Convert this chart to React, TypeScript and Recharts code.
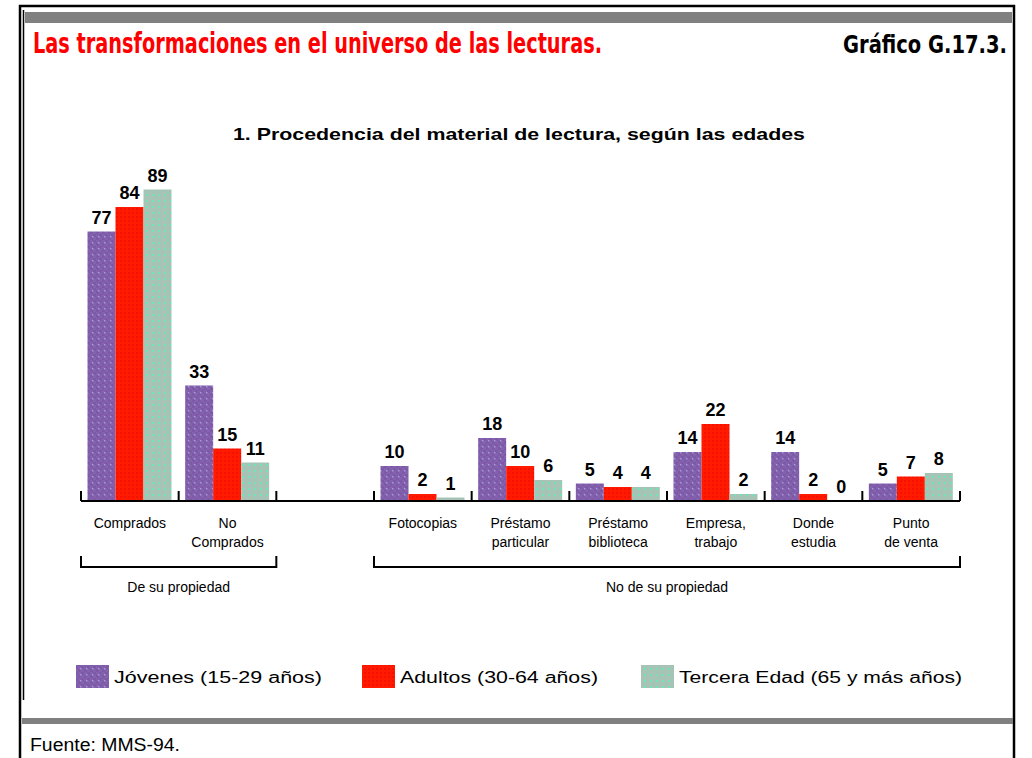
import { Bar, BarChart, LabelList, XAxis, YAxis } from "recharts";

const categories = [
  "Comprados",
  "No Comprados",
  " ",
  "Fotocopias",
  "Préstamo particular",
  "Préstamo biblioteca",
  "Empresa, trabajo",
  "Donde estudia",
  "Punto de venta",
];
const tickLines: string[][] = [
  ["Comprados"],
  ["No", "Comprados"],
  [],
  ["Fotocopias"],
  ["Préstamo", "particular"],
  ["Préstamo", "biblioteca"],
  ["Empresa,", "trabajo"],
  ["Donde", "estudia"],
  ["Punto", "de venta"],
];
const jovenes = [77, 33, null, 10, 18, 5, 14, 14, 5];
const adultos = [84, 15, null, 2, 10, 4, 22, 2, 7];
const terceraEdad = [89, 11, null, 1, 6, 4, 2, 0, 8];

const seriesNames = [
  "Jóvenes (15-29 años)",
  "Adultos (30-64 años)",
  "Tercera Edad (65 y más años)",
];
const groups = [
  { label: "De su propiedad", from: 0, to: 1 },
  { label: "No de su propiedad", from: 3, to: 8 },
];

const FILLS = ["url(#patJov)", "url(#patAdu)", "url(#patTer)"];
const FONT = "'Liberation Sans', Arial, sans-serif";
const NARROW = "'Liberation Sans Narrow', 'DejaVu Sans Condensed', sans-serif";

const CHART_W = 1032;
const MARGIN = { top: 151, right: 72, left: 81, bottom: 0 };
const BAND = (CHART_W - MARGIN.left - MARGIN.right) / categories.length;

const data = categories.map((cat, i) => ({
  cat,
  jov: jovenes[i],
  adu: adultos[i],
  ter: terceraEdad[i],
}));

function CategoryTick(props: any) {
  const { x, y, payload } = props;
  const i = payload.index ?? categories.indexOf(payload.value);
  const left = x - BAND / 2;
  const lines = tickLines[i] ?? [];
  const group = groups.find((g) => g.from === i);
  return (
    <g>
      <line x1={left} x2={left} y1={y - 10} y2={y} stroke="#000" strokeWidth={2} />
      {i === categories.length - 1 && (
        <line x1={left + BAND} x2={left + BAND} y1={y - 10} y2={y} stroke="#000" strokeWidth={2} />
      )}
      {lines.map((t, k) => (
        <text
          key={k}
          x={x}
          y={y + 27 + k * 19}
          textAnchor="middle"
          fontFamily={FONT}
          fontSize={14}
          fill="#000"
        >
          {t}
        </text>
      ))}
      {group && (
        <g>
          <path
            d={`M${left},${y + 55} V${y + 66} H${left + (group.to - group.from + 1) * BAND} V${y + 55}`}
            fill="none"
            stroke="#000"
            strokeWidth={2}
          />
          <text
            x={left + ((group.to - group.from + 1) * BAND) / 2}
            y={y + 91}
            textAnchor="middle"
            fontFamily={FONT}
            fontSize={14}
            fill="#000"
          >
            {group.label}
          </text>
        </g>
      )}
    </g>
  );
}

const legendX = [76, 362, 641];
const legendLen = [208, 198, 283];

export default function App() {
  return (
    <div style={{ position: "relative", width: 1032, height: 758, background: "#fff", overflow: "hidden" }}>
      <style>{`body{margin:0}`}</style>
      <svg width={1032} height={758} style={{ position: "absolute", left: 0, top: 0 }}>
        <defs>
          <pattern id="patJov" width={6} height={6} patternUnits="userSpaceOnUse">
            <rect width={6} height={6} fill="#7c5aa8" />
            <rect x={0} y={0} width={3} height={3} fill="#8462ae" />
            <rect x={3} y={3} width={3} height={3} fill="#8462ae" />
            <rect x={2} y={2} width={1.5} height={1.5} fill="#a49ad6" />
          </pattern>
          <pattern id="patAdu" width={4} height={4} patternUnits="userSpaceOnUse">
            <rect width={4} height={4} fill="#ff1a00" />
            <rect x={0} y={0} width={2} height={2} fill="#f51000" />
          </pattern>
          <pattern id="patTer" width={6} height={6} patternUnits="userSpaceOnUse">
            <rect width={6} height={6} fill="#a5c4b6" />
            <rect x={2} y={2} width={1.8} height={1.8} fill="#68eab8" />
          </pattern>
        </defs>
        <path d="M20,758 V6 H1014 V758" fill="none" stroke="#000" strokeWidth={2.5} />
        <line x1={23.5} x2={23.5} y1={10} y2={700} stroke="#000" strokeWidth={1.5} />
        <rect x={25} y={12} width={987} height={11} fill="#808080" />
        <rect x={22} y={718} width={991} height={6} fill="#808080" />
        <text
          x={33}
          y={53}
          fontFamily={NARROW}
          fontWeight="bold"
          fontSize={28}
          fill="#ff0000"
          textLength={569}
          lengthAdjust="spacingAndGlyphs"
        >
          Las transformaciones en el universo de las lecturas.
        </text>
        <text
          x={843}
          y={53}
          fontFamily={NARROW}
          fontWeight="bold"
          fontSize={25}
          fill="#000"
          textLength={164}
          lengthAdjust="spacingAndGlyphs"
        >
          Gráfico G.17.3.
        </text>
        <text
          x={233}
          y={140}
          fontFamily={FONT}
          fontWeight="bold"
          fontSize={17}
          fill="#000"
          textLength={572}
          lengthAdjust="spacingAndGlyphs"
        >
          1. Procedencia del material de lectura, según las edades
        </text>
        {seriesNames.map((name, i) => (
          <g key={name}>
            <rect x={legendX[i]} y={665} width={33} height={23} fill={FILLS[i]} />
            <text
              x={legendX[i] + 38}
              y={683}
              fontFamily={FONT}
              fontSize={16}
              fill="#000"
              textLength={legendLen[i]}
              lengthAdjust="spacingAndGlyphs"
            >
              {name}
            </text>
          </g>
        ))}
        <text
          x={30}
          y={751}
          fontFamily={FONT}
          fontSize={18}
          fill="#000"
          textLength={150}
          lengthAdjust="spacingAndGlyphs"
        >
          Fuente: MMS-94.
        </text>
      </svg>
      <div style={{ position: "absolute", left: 0, top: 0 }}>
        <BarChart
          width={CHART_W}
          height={640}
          data={data}
          margin={MARGIN}
          barCategoryGap={6.5}
          barGap={0}
        >
          <YAxis hide domain={[0, 100]} />
          <XAxis
            dataKey="cat"
            height={139}
            interval={0}
            tickLine={false}
            tickSize={0}
            tickMargin={0}
            axisLine={{ stroke: "#000", strokeWidth: 2 }}
            tick={<CategoryTick />}
          />
          {(["jov", "adu", "ter"] as const).map((key, i) => (
            <Bar
              key={key}
              dataKey={key}
              name={seriesNames[i]}
              fill={FILLS[i]}
              minPointSize={key === "ter" ? 0.5 : 0}
              isAnimationActive={false}
            >
              <LabelList
                dataKey={key}
                position="top"
                offset={8}
                fill="#000"
                fontFamily={FONT}
                fontWeight="bold"
                fontSize={18}
              />
            </Bar>
          ))}
        </BarChart>
      </div>
    </div>
  );
}
